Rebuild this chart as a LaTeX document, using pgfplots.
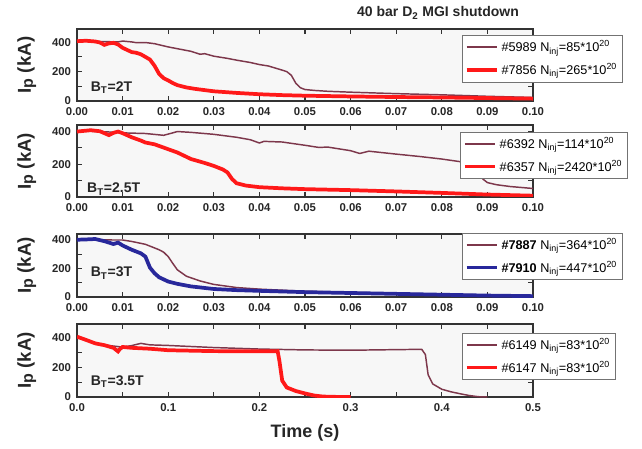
\documentclass[border=0pt]{standalone}
\usepackage{fontspec}
\setmainfont{Liberation Sans}
\usepackage{pgfplots}
\pgfplotsset{compat=1.18}
\definecolor{maroon}{RGB}{125,55,75}
\definecolor{bred}{RGB}{255,25,25}
\definecolor{bblue}{RGB}{40,40,155}

\pgfplotsset{
  panel/.style={
    scale only axis, width=342pt, anchor=north west,
    xmin=0, xmax=0.1, ymin=0,
    axis line style={line width=0.9pt, black!80},
    tick style={line width=0.8pt, black!80},
    major tick length=3.5pt, minor tick length=3.5pt,
    tick align=inside,
    xtick={0,0.01,...,0.1},
    ytick={0,200,400}, minor ytick={100,300},
    xticklabel style={yshift=-1.5pt,/pgf/number format/.cd,fixed,fixed zerofill,precision=2},
    yticklabel style={xshift=-1pt},
    /pgf/number format/assume math mode=true,
    tick label style={font=\bfseries\fontsize{8.5}{9}\selectfont, black!85},
    axis background/.style={fill=black!3},
    ylabel={I\raisebox{-1.5pt}{\fontsize{12}{12}\selectfont p} (kA)},
    every axis y label/.style={at={(axis description cs:-0.11,0.5)}, rotate=90, anchor=center,
      font=\bfseries\fontsize{14}{15}\selectfont, black!85},
    legend style={anchor=north west, font=\fontsize{9.5}{10}\selectfont, draw=black!55, fill=white,
      inner xsep=2pt, inner ysep=2pt, row sep=3pt, cells={anchor=west}},
    legend image code/.code={\draw[#1] (0cm,0cm) -- (0.8cm,0cm);},
  },
  thin line/.style={color=maroon, line width=1.1pt},
  thick line/.style={line width=2.8pt},
}

\begin{document}
\begin{tikzpicture}
\useasboundingbox (0,0) rectangle (481.5pt,-336.75pt);

% panel 1: B_T = 2T
\begin{axis}[panel, at={(57.75pt,-21.75pt)}, height=54pt, ymax=490,
  legend style={at={(0.844,0.917)}}]
\addplot[thin line] coordinates {
 (0,410) (0.005,405) (0.009,402) (0.010,408) (0.012,402) (0.013,397) (0.015,398)
 (0.017,390) (0.020,368) (0.023,350) (0.025,338) (0.027,318) (0.028,322) (0.030,305)
 (0.033,290) (0.035,278) (0.038,262) (0.040,248) (0.042,238) (0.045,210) (0.046,200)
 (0.047,175) (0.048,120) (0.049,90) (0.050,78) (0.052,72) (0.055,66) (0.060,60)
 (0.065,55) (0.070,50) (0.075,46) (0.080,42) (0.085,37) (0.090,32) (0.095,28) (0.100,24)
};
\addlegendentry{\#5989 N\textsubscript{inj}=85*10\textsuperscript{20}}
\addplot[thick line, bred] coordinates {
 (0,407) (0.002,410) (0.004,405) (0.005,398) (0.006,382) (0.007,392) (0.008,396)
 (0.009,385) (0.010,362) (0.012,333) (0.013,328) (0.014,318) (0.015,300) (0.016,282)
 (0.017,240) (0.018,185) (0.019,155) (0.020,140) (0.021,122) (0.022,108) (0.024,92)
 (0.026,82) (0.028,74) (0.030,66) (0.035,55) (0.040,46) (0.045,40) (0.050,36)
 (0.060,31) (0.070,27) (0.080,24) (0.090,20) (0.100,16)
};
\addlegendentry{\#7856 N\textsubscript{inj}=265*10\textsuperscript{20}}
\node[anchor=west, font=\bfseries\fontsize{10.5}{11}\selectfont, black!85]
  at (axis description cs:0.02,0.19) {B\textsubscript{T}=2T};
\end{axis}

% panel 2: B_T = 2.5T
\begin{axis}[panel, at={(57.75pt,-93.75pt)}, height=54pt, ymax=440,
  legend style={at={(0.840,0.907)}}]
\addplot[thin line] coordinates {
 (0,405) (0.005,400) (0.008,396) (0.010,392) (0.015,388) (0.019,377) (0.021,392)
 (0.022,400) (0.025,395) (0.030,383) (0.035,365) (0.038,350) (0.040,330) (0.041,340)
 (0.045,336) (0.050,316) (0.053,303) (0.055,305) (0.060,283) (0.062,266) (0.064,280)
 (0.070,262) (0.075,248) (0.080,232) (0.085,212) (0.087,195) (0.088,170) (0.089,110)
 (0.090,88) (0.092,75) (0.095,64) (0.100,52)
};
\addlegendentry{\#6392 N\textsubscript{inj}=114*10\textsuperscript{20}}
\addplot[thick line, bred] coordinates {
 (0,400) (0.003,408) (0.005,402) (0.007,378) (0.008,392) (0.009,400) (0.010,390)
 (0.012,365) (0.014,345) (0.015,333) (0.017,322) (0.020,292) (0.022,272) (0.025,232)
 (0.028,208) (0.030,190) (0.032,168) (0.033,150) (0.034,110) (0.035,84) (0.037,70)
 (0.040,60) (0.045,53) (0.050,48) (0.060,42) (0.070,34) (0.080,25) (0.090,15) (0.100,8)
};
\addlegendentry{\#6357 N\textsubscript{inj}=2420*10\textsuperscript{20}}
\node[anchor=west, font=\bfseries\fontsize{10.5}{11}\selectfont, black!85]
  at (axis description cs:0.012,0.11) {B\textsubscript{T}=2.5T};
\end{axis}

% panel 3: B_T = 3T
\begin{axis}[panel, at={(57.75pt,-175.5pt)}, height=47.25pt, ymax=440,
  legend style={at={(0.844,1.02)}}]
\addplot[thin line] coordinates {
 (0,405) (0.005,400) (0.008,398) (0.010,398) (0.012,388) (0.015,368) (0.018,330)
 (0.019,313) (0.020,282) (0.021,235) (0.022,190) (0.024,145) (0.027,112) (0.030,88)
 (0.035,66) (0.040,55) (0.050,40) (0.060,32) (0.070,26) (0.080,20) (0.090,14) (0.100,10)
};
\addlegendentry{\textbf{\#7887} N\textsubscript{inj}=364*10\textsuperscript{20}}
\addplot[thick line, bblue] coordinates {
 (0,400) (0.002,402) (0.004,405) (0.006,390) (0.008,370) (0.009,380) (0.010,360)
 (0.012,330) (0.014,305) (0.015,282) (0.016,205) (0.017,166) (0.018,138) (0.020,108)
 (0.022,92) (0.025,74) (0.030,56) (0.035,48) (0.040,43) (0.050,34) (0.060,28)
 (0.070,22) (0.080,16) (0.090,10) (0.100,6)
};
\addlegendentry{\textbf{\#7910} N\textsubscript{inj}=447*10\textsuperscript{20}}
\node[anchor=west, font=\bfseries\fontsize{10.5}{11}\selectfont, black!85]
  at (axis description cs:0.02,0.38) {B\textsubscript{T}=3T};
\end{axis}

% panel 4: B_T = 3.5T
\begin{axis}[panel, at={(57.75pt,-243pt)}, height=54.75pt, ymax=490,
  xmax=0.5, xtick={0,0.1,...,0.5}, minor xtick={0.05,0.15,...,0.45},
  xticklabel style={/pgf/number format/.cd,fixed,fixed zerofill,precision=1},
  xlabel={Time (s)},
  every axis x label/.style={at={(axis description cs:0.5,0)}, anchor=north, yshift=-17pt,
    font=\bfseries\fontsize{13.5}{14}\selectfont, black!85},
  legend style={at={(0.844,0.88)}}]
\addplot[thin line] coordinates {
 (0,400) (0.010,380) (0.020,360) (0.030,350) (0.040,342) (0.050,335) (0.060,345)
 (0.070,360) (0.080,350) (0.100,346) (0.150,332) (0.200,322) (0.250,316) (0.300,314)
 (0.350,318) (0.378,320) (0.382,285) (0.385,150) (0.390,88) (0.400,52) (0.410,35)
 (0.420,22) (0.430,10) (0.440,2) (0.450,0)
};
\addlegendentry{\#6149 N\textsubscript{inj}=83*10\textsuperscript{20}}
\addplot[thick line, bred] coordinates {
 (0,405) (0.010,383) (0.020,360) (0.030,348) (0.040,330) (0.045,306) (0.047,322)
 (0.050,336) (0.060,330) (0.080,324) (0.100,314) (0.150,308) (0.200,307) (0.220,308)
 (0.222,240) (0.225,110) (0.230,64) (0.240,40) (0.250,24) (0.260,10) (0.270,3)
 (0.290,0) (0.300,0)
};
\addlegendentry{\#6147 N\textsubscript{inj}=83*10\textsuperscript{20}}
\node[anchor=west, font=\bfseries\fontsize{10.5}{11}\selectfont, black!85]
  at (axis description cs:0.02,0.21) {B\textsubscript{T}=3.5T};
\end{axis}

\node[font=\bfseries\fontsize{10.5}{11}\selectfont, black!85] at (328.5pt,-9.75pt)
  {40 bar D\textsubscript{2} MGI shutdown};
\end{tikzpicture}
\end{document}
